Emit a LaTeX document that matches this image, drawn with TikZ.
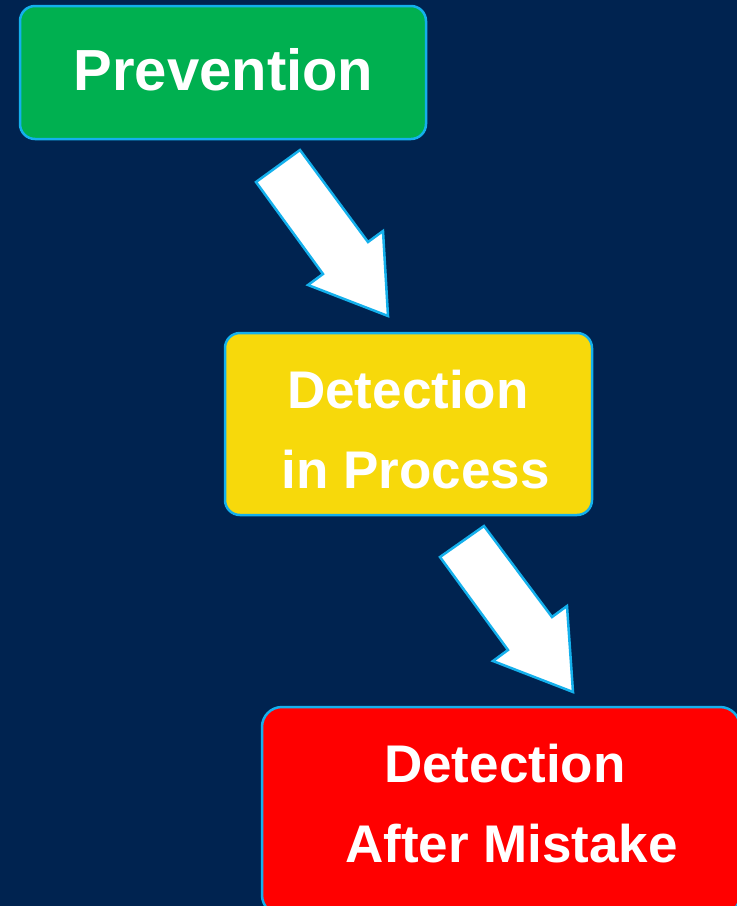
\documentclass[tikz,border=0pt]{standalone}
\usepackage{fontspec}
\setmainfont{Liberation Sans}
\definecolor{bg}{HTML}{002350}
\definecolor{edge}{HTML}{14B0EC}
\definecolor{gfill}{HTML}{00B050}
\definecolor{yfill}{HTML}{F7D90B}
\definecolor{rfill}{HTML}{FF0000}
\begin{document}
\begin{tikzpicture}[x=1pt,y=-1pt,
  box/.style={draw=edge, line width=2.5pt},
  lbl/.style={font=\fontsize{53}{60}\selectfont\bfseries, text=white, inner sep=0pt, anchor=base},
  biglbl/.style={lbl, font=\fontsize{58}{66}\selectfont\bfseries},
  blockarrow/.style={draw=edge, fill=white, line width=2.5pt, line join=miter}]
\fill[bg] (0,0) rectangle (737,906);
\useasboundingbox (0,0) rectangle (737,906);
\clip (0,0) rectangle (737,906);
% boxes
\node[box, fill=gfill, rounded corners=15pt, minimum width=406pt, minimum height=133pt] (prev) at (223,72.5) {};
\node[box, fill=yfill, rounded corners=15pt, minimum width=367pt, minimum height=182pt] (dip) at (408.5,424) {};
\node[box, fill=rfill, rounded corners=20pt, minimum width=478pt, minimum height=208pt] (dam) at (501,811) {};
% labels
\node[biglbl] (prevt) at (223.5,90) {Prevention};
\node[lbl] (dip1) at (408,408) {Detection};
\node[lbl] (dip2) at (415.5,488) {in Process};
\node[lbl] (dam1) at (505,782) {Detection};
\node[lbl] (dam2) at (511.5,862) {After Mistake};
% block arrows
\draw[blockarrow] (256,182) -- (300,150) -- (368,242) -- (383,231) -- (388,316) -- (308,285) -- (323,274) -- cycle;
\draw[blockarrow] (440,557) -- (484,526) -- (552,617) -- (567,606) -- (573,692) -- (493,661) -- (508,650) -- cycle;
\end{tikzpicture}
\end{document}
